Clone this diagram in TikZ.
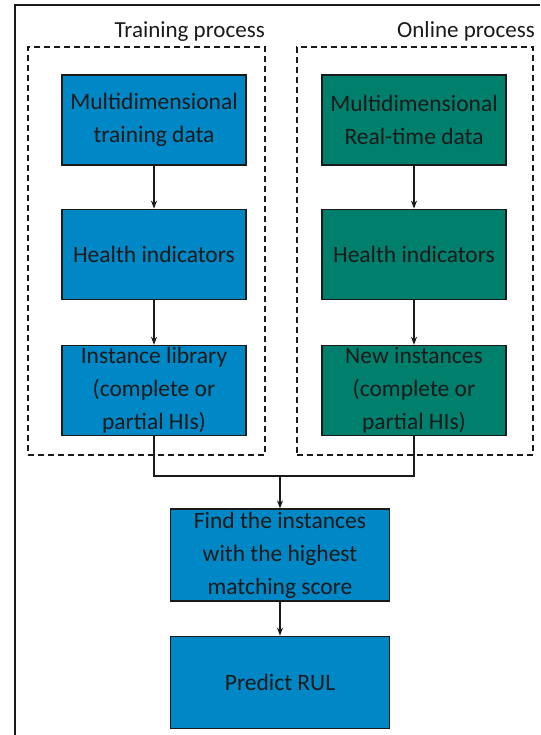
\documentclass[tikz,border=0pt]{standalone}
\usepackage{fontspec}
\setmainfont{Carlito}
\usetikzlibrary{arrows.meta,positioning,calc}
\definecolor{rulblue}{HTML}{0087C6}
\definecolor{rulgreen}{HTML}{007F6D}
\definecolor{rulink}{HTML}{1A1A1A}
\tikzset{
  trainbox/.style={draw=rulink,line width=1.2pt,fill=rulblue,text=rulink,minimum width=184pt,minimum height=90pt,inner sep=0pt,align=center,font=\fontsize{23.5}{33}\selectfont},
  onlinebox/.style={trainbox,fill=rulgreen},
  procframe/.style={draw=rulink,line width=1.4pt,dash pattern=on 6pt off 4pt,inner sep=0pt},
  rulflow/.style={-{Stealth[length=8pt,width=6pt]},line width=1.2pt,draw=rulink},
  proctitle/.style={font=\fontsize{23}{26}\selectfont,text=rulink,inner sep=0pt,anchor=base east},
}
\begin{document}
\begin{tikzpicture}[x=1pt,y=-1pt]
\useasboundingbox (0,0) rectangle (540,735);
% outer frame
\draw[line width=2pt,rulink] (15,735) -- (15,5) -- (540,5);
% process frames
\node[procframe,minimum width=237pt,minimum height=408pt] (tframe) at (146.5,251) {};
\node[procframe,minimum width=236pt,minimum height=408pt] (oframe) at (415,251) {};
\node[proctitle] (ttitle) at (265,38) {Training process};
\node[proctitle] (otitle) at (535,38) {Online process};
% training side
\node[trainbox] (t1) at (154,120) {Multidimensional\\training data};
\node[trainbox,below=43pt of t1] (t2) {Health indicators};
\node[trainbox,below=45pt of t2] (t3) {Instance library\\(complete or\\partial HIs)};
% online side
\node[onlinebox] (o1) at (414,120) {Multidimensional\\Real-time data};
\node[onlinebox,below=43pt of o1] (o2) {Health indicators};
\node[onlinebox,below=45pt of o2] (o3) {New instances\\(complete or\\partial HIs)};
% matching and prediction
\node[trainbox,minimum width=219pt,minimum height=92pt] (find) at (280,555) {Find the instances\\with the highest\\matching score};
\node[trainbox,minimum width=219pt,minimum height=92pt,below=34pt of find] (rul) {Predict RUL};
\coordinate (join) at (280,476);
\draw[rulflow] (t1) -- (t2);
\draw[rulflow] (t2) -- (t3);
\draw[rulflow] (o1) -- (o2);
\draw[rulflow] (o2) -- (o3);
\draw[line width=1.2pt,rulink] (t3) |- (join) -| (o3);
\draw[rulflow] (join) -- (find);
\draw[rulflow] (find) -- (rul);
\end{tikzpicture}
\end{document}
